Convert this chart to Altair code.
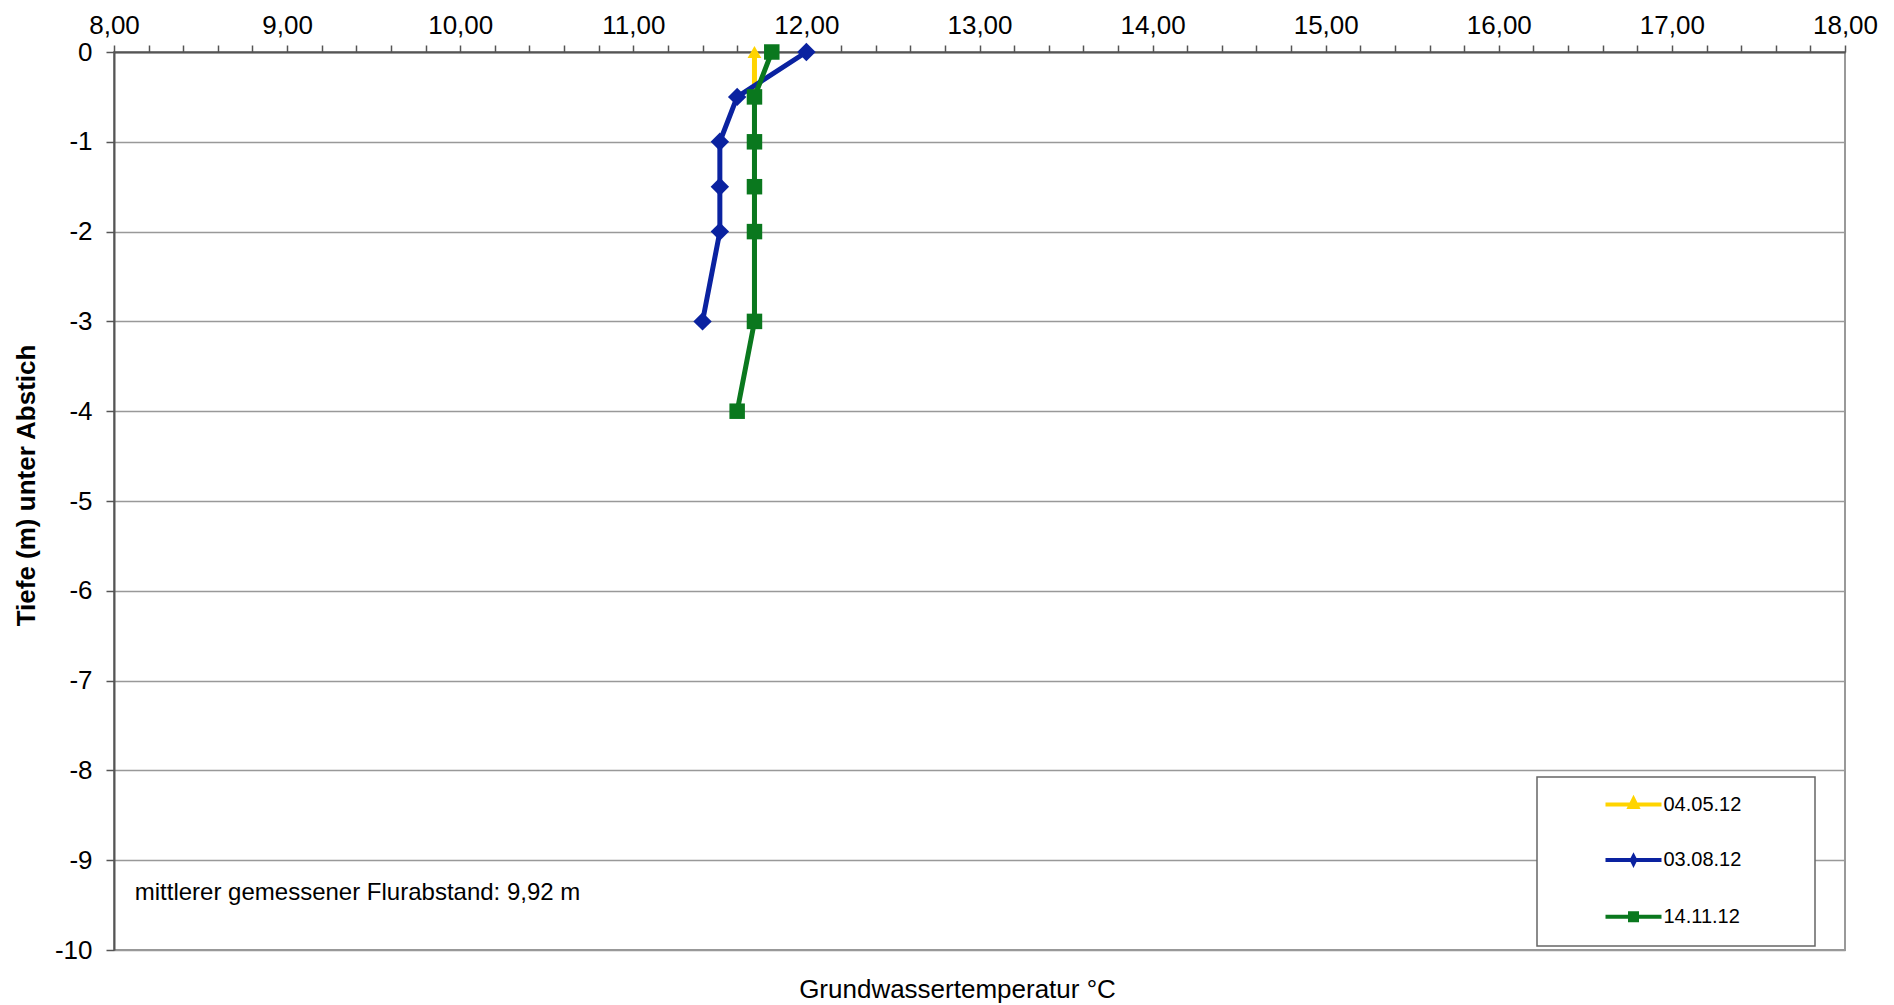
import altair as alt
import pandas as pd

# ---------------- data ----------------
SERIES = ["04.05.12", "03.08.12", "14.11.12"]
COLORS = ["#FFD400", "#0A22A0", "#0A781E"]
SHAPES = ["triangle-up", "diamond", "square"]
SIZES = [190, 340, 240]
# legend symbols: a short line with the series marker on it
LEGEND_SHAPES = [
    "M-4,0H4M0,-0.75L0.55,0.35H-0.55Z",
    "M-4,0H4M0,-0.5L0.25,0L0,0.5L-0.25,0Z",
    "M-4,0H4M-0.5,-0.5H0.5V0.5H-0.5Z",
]

DEPTH_0405 = [0, -0.5, -1, -1.5, -2, -3]
TEMP_0405 = [11.7, 11.7, 11.7, 11.7, 11.7, 11.7]

DEPTH_0308 = [0, -0.5, -1, -1.5, -2, -3]
TEMP_0308 = [12.0, 11.6, 11.5, 11.5, 11.5, 11.4]

DEPTH_1411 = [0, -0.5, -1, -1.5, -2, -3, -4]
TEMP_1411 = [11.8, 11.7, 11.7, 11.7, 11.7, 11.7, 11.6]

X_TICKS = [round(8 + i * 0.2, 1) for i in range(51)]
Y_TICKS = [0, -1, -2, -3, -4, -5, -6, -7, -8, -9, -10]

NOTE = ["mittlerer gemessener Flurabstand: 9,92 m"]
NOTE_X = [8.12]
NOTE_Y = [-9.37]

X_TITLE = "Grundwassertemperatur °C"
Y_TITLE = "Tiefe (m) unter Abstich"

FONT = "Liberation Sans"

rows = []
for name, temps, depths in [
    (SERIES[0], TEMP_0405, DEPTH_0405),
    (SERIES[1], TEMP_0308, DEPTH_0308),
    (SERIES[2], TEMP_1411, DEPTH_1411),
]:
    for i, (t, d) in enumerate(zip(temps, depths)):
        rows.append({"series": name, "temp": t, "depth": d, "idx": i})
df = pd.DataFrame(rows)
note_df = pd.DataFrame({"text": NOTE, "temp": NOTE_X, "depth": NOTE_Y})
legend_df = pd.DataFrame({"series": pd.Series([], dtype=str),
                          "temp": pd.Series([], dtype=float),
                          "depth": pd.Series([], dtype=float)})

# ---------------- scales / axes ----------------
x_axis = alt.Axis(
    orient="top",
    values=X_TICKS,
    labelExpr="abs(datum.value - round(datum.value)) < 0.001 ? replace(format(datum.value, '.2f'), '.', ',') : ''",
    labelFontSize=26,
    labelFont=FONT,
    labelColor="#000000",
    labelPadding=7,
    labelFlush=False,
    labelOverlap=False,
    labelBound=False,
    tickSize=7,
    tickColor="#555555",
    tickWidth=1.5,
    domainColor="#555555",
    domainWidth=2,
    grid=False,
    title=None,
)
y_axis = alt.Axis(
    values=Y_TICKS,
    labelExpr="'' + datum.value",
    labelFontSize=26,
    labelFont=FONT,
    labelColor="#000000",
    labelPadding=14,
    tickSize=8,
    tickColor="#555555",
    tickWidth=1.5,
    domainColor="#555555",
    domainWidth=2,
    grid=True,
    gridColor="#999999",
    gridWidth=1.5,
    title=Y_TITLE,
    titleFont=FONT,
    titleFontSize=26,
    titleFontWeight="bold",
    titleColor="#000000",
    titlePadding=15,
    titleY=433,
)
X = alt.X("temp:Q", scale=alt.Scale(domain=[8, 18], nice=False, zero=False), axis=x_axis)
Y = alt.Y("depth:Q", scale=alt.Scale(domain=[-10, 0], nice=False, zero=False), axis=y_axis)

legend = alt.Legend(
    # invisible (white on white) spacer title on the right widens the legend box
    title="0000",
    titleOrient="right",
    titleColor="#ffffff",
    titleFontSize=20,
    titleFont=FONT,
    titlePadding=11,
    orient="none",
    legendX=1423,
    legendY=725,
    direction="vertical",
    padding=17.5,
    rowPadding=32.6,
    symbolSize=196,
    symbolStrokeWidth=4,
    symbolOpacity=1,
    symbolOffset=69,
    labelOffset=20,
    labelLimit=300,
    labelFontSize=20,
    labelFont=FONT,
    labelColor="#000000",
    fillColor="#ffffff",
    strokeColor="#666666",
)
color_scale = alt.Scale(domain=SERIES, range=COLORS)

lines = alt.Chart(df).mark_line(strokeWidth=5).encode(
    x=X, y=Y, color=alt.Color("series:N", scale=color_scale, legend=None),
    order=alt.Order("idx:Q"),
)

point_layers = []
for name, shp, sz in zip(SERIES, SHAPES, SIZES):
    point_layers.append(
        alt.Chart(df)
        .transform_filter(alt.datum.series == name)
        .mark_point(filled=True, opacity=1, strokeWidth=0, shape=shp, size=sz)
        .encode(x=X, y=Y, color=alt.Color("series:N", scale=color_scale, legend=None))
    )

legend_layer = alt.Chart(legend_df).mark_point(filled=False, size=196, strokeWidth=4).encode(
    x=X,
    y=Y,
    color=alt.Color("series:N", scale=color_scale, legend=legend),
    shape=alt.Shape("series:N", scale=alt.Scale(domain=SERIES, range=LEGEND_SHAPES), legend=legend),
)
note = alt.Chart(note_df).mark_text(
    align="left", baseline="middle", fontSize=24, font=FONT, color="#000000"
).encode(x=X, y=Y, text="text:N")

chart = (
    alt.layer(lines, *point_layers, legend_layer, note)
    .resolve_scale(shape="independent", color="independent")
    .properties(
        width=1731,
        height=898,
        padding={"left": 106, "top": 44, "right": 35, "bottom": 55},
        autosize=alt.AutoSizeParams(type="none"),
        background="#ffffff",
        title=alt.TitleParams(
            X_TITLE,
            orient="bottom",
            anchor="middle",
            frame="group",
            fontSize=26,
            fontWeight="normal",
            font=FONT,
            color="#000000",
            offset=14,
            dx=-22,
        ),
    )
    .configure_view(stroke="#999999", strokeWidth=2)
    .configure_legend(strokeWidth=1.5)
)

chart.save("out.html", embed_options={"renderer": "svg", "actions": False})
